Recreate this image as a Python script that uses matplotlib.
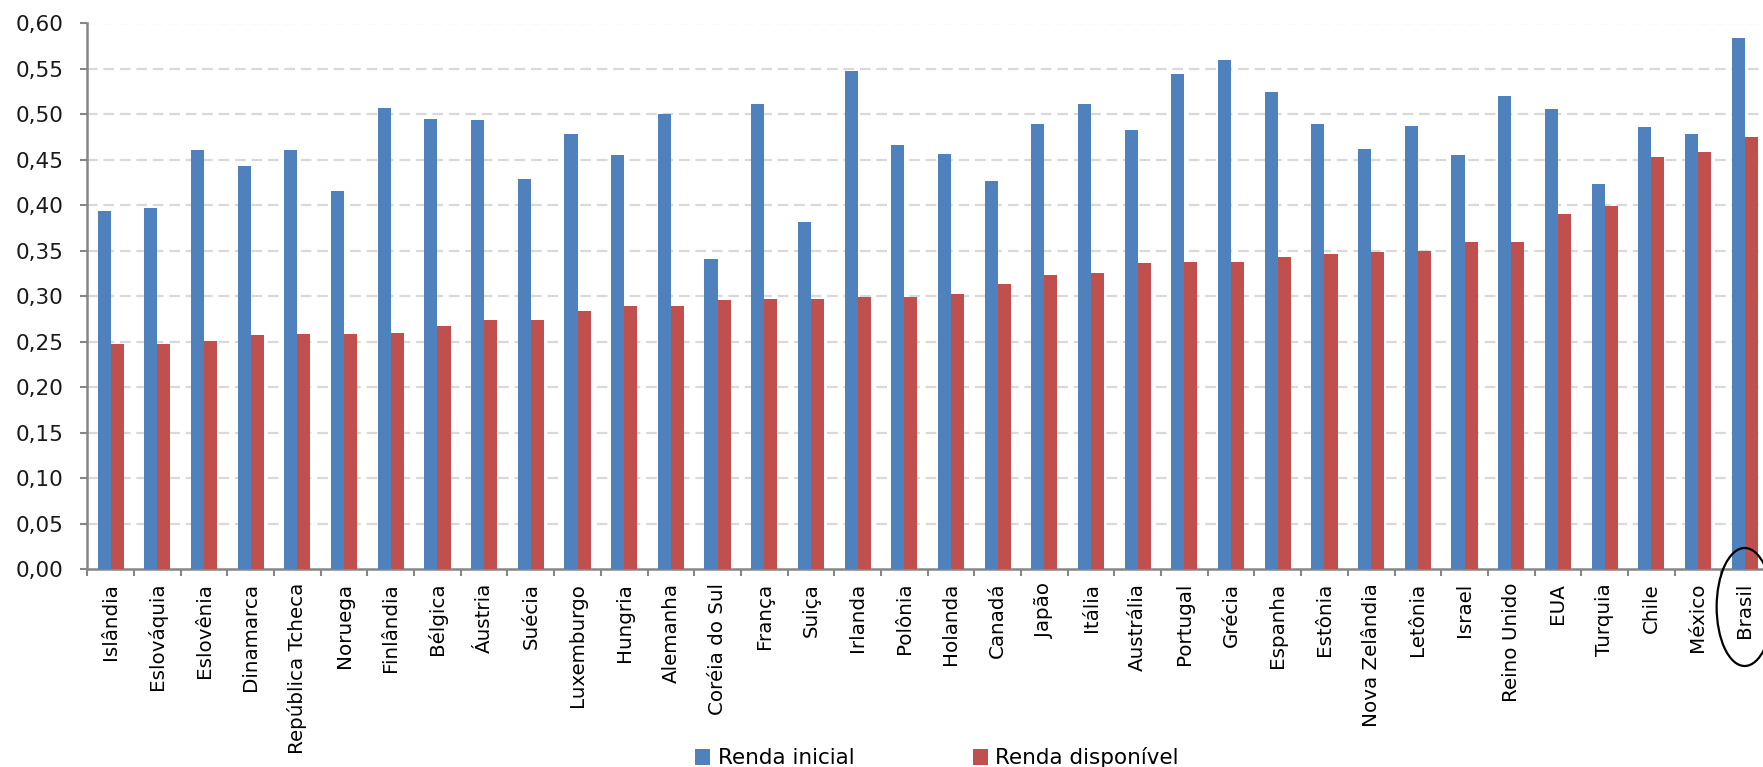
import matplotlib
matplotlib.use("Agg")
import matplotlib.pyplot as plt
from matplotlib.patches import Patch, Ellipse
from matplotlib import transforms
import numpy as np

countries = [
    "Islândia", "Eslováquia", "Eslovênia", "Dinamarca", "República Tcheca",
    "Noruega", "Finlândia", "Bélgica", "Áustria", "Suécia", "Luxemburgo",
    "Hungria", "Alemanha", "Coréia do Sul", "França", "Suiça", "Irlanda",
    "Polônia", "Holanda", "Canadá", "Japão", "Itália", "Austrália",
    "Portugal", "Grécia", "Espanha", "Estônia", "Nova Zelândia", "Letônia",
    "Israel", "Reino Unido", "EUA", "Turquia", "Chile", "México", "Brasil",
]

# Gini index before and after taxes/transfers
renda_inicial = [
    0.394, 0.397, 0.461, 0.443, 0.461, 0.416, 0.507, 0.495, 0.494, 0.429,
    0.479, 0.455, 0.500, 0.341, 0.512, 0.382, 0.548, 0.466, 0.457, 0.427,
    0.489, 0.512, 0.483, 0.544, 0.560, 0.525, 0.490, 0.462, 0.487, 0.455,
    0.520, 0.506, 0.423, 0.486, 0.479, 0.584,
]
renda_disponivel = [
    0.247, 0.248, 0.251, 0.257, 0.258, 0.258, 0.260, 0.267, 0.274, 0.274,
    0.284, 0.289, 0.289, 0.296, 0.297, 0.297, 0.299, 0.299, 0.303, 0.313,
    0.323, 0.326, 0.337, 0.338, 0.338, 0.343, 0.346, 0.349, 0.350, 0.360,
    0.360, 0.390, 0.399, 0.453, 0.459, 0.475,
]
yticks = np.arange(0, 0.601, 0.05)

BLUE = "#4F81BD"
RED = "#C0504D"
AXIS_GRAY = "#868686"

W, H = 1763, 767
fig = plt.figure(figsize=(W / 100, H / 100), dpi=100)
# axes runs a few pixels past the right edge, so the last bar is cut off
ax = fig.add_axes([87.3 / W, 1 - 569 / H, (1768 - 87.3) / W, (569 - 23.5) / H])

x = np.arange(len(countries))
bw = 0.28
ax.bar(x - bw / 2, renda_inicial, bw, color=BLUE, zorder=3, label="Renda inicial")
ax.bar(x + bw / 2, renda_disponivel, bw, color=RED, zorder=3, label="Renda disponível")

ax.set_xlim(-0.5, len(countries) - 0.5)
ax.set_ylim(0, 0.60)

# dashed grid, skipping the baseline
for v in yticks[1:]:
    ax.axhline(v, color="#D9D9D9", lw=1.6, dashes=(4.8, 2.6), zorder=1)

ax.set_yticks(yticks)
ax.set_yticklabels([f"{v:.2f}".replace(".", ",") for v in yticks])
ax.tick_params(axis="y", direction="out", length=5, width=1.5, color=AXIS_GRAY,
               pad=12, labelsize=15.5, labelcolor="#1a1a1a")

ax.set_xticks(x)
ax.set_xticklabels(countries, rotation=90)
ax.set_xticks(np.arange(-0.5, len(countries)), minor=True)
ax.tick_params(axis="x", which="major", length=0, pad=10, labelsize=14.3,
               labelcolor="black")
ax.tick_params(axis="x", which="minor", direction="out", length=5, width=1.5,
               color=AXIS_GRAY)

for side in ["top", "right"]:
    ax.spines[side].set_visible(False)
for side in ["left", "bottom"]:
    ax.spines[side].set_color(AXIS_GRAY)
    ax.spines[side].set_linewidth(1.8)
ax.spines["left"].set_zorder(4)

# ring around the Brasil label
trans = transforms.blended_transform_factory(ax.transData, fig.transFigure)
i_br = countries.index("Brasil")
ring = Ellipse((i_br, 1 - 607 / H), 1.2, 118 / H, transform=trans,
               fill=False, edgecolor="black", lw=1.6, clip_on=False)
fig.add_artist(ring)

handles = [Patch(facecolor=BLUE, label="Renda inicial"),
           Patch(facecolor=RED, label="Renda disponível")]
fig.legend(handles=handles, loc="center", bbox_to_anchor=(937 / W, 9 / H),
           ncol=2, frameon=False, fontsize=15.5, handlelength=0.7,
           handleheight=0.7, handletextpad=0.35, columnspacing=5.5,
           borderpad=0)

fig.savefig("out.png", dpi=100)
